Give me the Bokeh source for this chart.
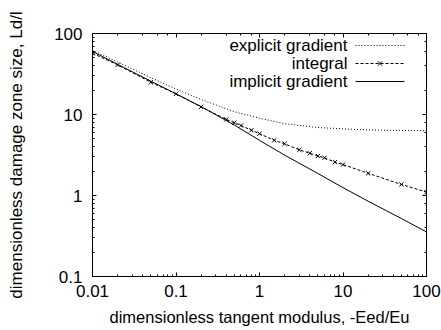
from bokeh.plotting import figure
from bokeh.models import LogAxis, Label, CustomJSTickFormatter
from bokeh.embed import file_html
from bokeh.resources import INLINE
import math

# ---- data ----
explicit_x = [0.01, 0.02, 0.05, 0.1, 0.2, 0.5, 1, 2, 5, 10, 20, 50, 100]
explicit_y = [62.0, 44.5, 28.5, 20.6, 15.3, 10.8, 9.0, 7.7, 6.9, 6.65, 6.45, 6.35, 6.3]

integral_x = [0.01, 0.02, 0.05, 0.1, 0.2, 0.4, 0.5, 0.6, 0.8, 1, 1.5, 2, 3, 4, 5, 6, 8, 10, 20, 50, 100]
integral_y = [57.0, 41.0, 25.0, 18.0, 12.4, 8.7, 7.9, 7.3, 6.4, 5.8, 4.8, 4.35, 3.66, 3.33, 3.07,
              2.92, 2.58, 2.41, 1.88, 1.37, 1.1]

implicit_x = [0.01, 0.02, 0.05, 0.1, 0.2, 0.5, 1, 2, 5, 10, 20, 50, 100]
implicit_y = [60.0, 41.6, 25.8, 18.0, 12.5, 7.4, 4.8, 3.15, 1.87, 1.25, 0.85, 0.52, 0.355]

x_ticks = [0.01, 0.1, 1, 10, 100]
y_ticks = [0.1, 1, 10, 100]
legend_labels = ["explicit gradient", "integral", "implicit gradient"]
x_title = "dimensionless tangent modulus, -Eed/Eu"
y_title = "dimensionless damage zone size, Ld/l"

FONT = "Liberation Sans"
FS = "17px"

FW, FH = 334, 243
XR, YR = (0.01, 100), (0.1, 100)

p = figure(width=441, height=330, x_axis_type="log", y_axis_type="log",
           x_range=XR, y_range=YR, output_backend="svg", toolbar_location=None,
           min_border_left=92, min_border_right=15, min_border_top=33, min_border_bottom=54)
p.grid.visible = False
p.outline_line_color = "black"
p.outline_line_width = 1
p.background_fill_color = "white"
p.border_fill_color = "white"

fmt = CustomJSTickFormatter(code="""
const e = Math.round(Math.log10(tick));
return e < 0 ? tick.toFixed(-e) : tick.toFixed(0);
""")
blank = CustomJSTickFormatter(code="return '';")

def style(ax):
    ax.major_tick_in = 4
    ax.major_tick_out = 0
    ax.minor_tick_in = 2
    ax.minor_tick_out = 0
    ax.axis_line_color = "black"
    ax.major_tick_line_color = "black"
    ax.minor_tick_line_color = "black"
    ax.major_label_text_font = FONT
    ax.major_label_text_font_size = FS
    ax.major_label_text_color = "black"
    ax.axis_label_text_font = FONT
    ax.axis_label_text_font_style = "normal"
    ax.axis_label_text_color = "black"

for ax in p.xaxis + p.yaxis:
    style(ax)
    ax.formatter = fmt

p.xaxis.axis_label = x_title
p.yaxis.axis_label = y_title
p.xaxis.axis_label_text_font_size = "16.5px"
p.yaxis.axis_label_text_font_size = FS
p.xaxis.major_label_standoff = 8
p.xaxis.axis_label_standoff = 8
p.yaxis.major_label_standoff = 10
p.yaxis.axis_label_standoff = 25

top = LogAxis(formatter=blank, major_label_standoff=0)
right = LogAxis(formatter=blank, major_label_standoff=0)
style(top)
style(right)
p.add_layout(top, "above")
p.add_layout(right, "right")

# curves
p.line(explicit_x, explicit_y, line_color="black", line_width=1, line_dash="1 2")
p.line(integral_x, integral_y, line_color="black", line_width=1, line_dash="3 2")
p.scatter(integral_x, integral_y, marker="x", size=6, line_color="black", line_width=1)
p.line(implicit_x, implicit_y, line_color="black", line_width=1)

# legend (label left, sample right), positioned in frame fractions
def fx(px):
    return 10 ** (math.log10(XR[0]) + (px / FW) * (math.log10(XR[1]) - math.log10(XR[0])))
def fy(py):
    return 10 ** (math.log10(YR[1]) - (py / FH) * (math.log10(YR[1]) - math.log10(YR[0])))

rows = [12, 30, 48]
dashes = ["1 2", "3 2", "solid"]
for lab, r, d in zip(legend_labels, rows, dashes):
    p.add_layout(Label(x=255, y=FH - r, x_units="screen", y_units="screen", text=lab,
                       text_font=FONT, text_font_size=FS, text_align="right",
                       text_baseline="middle", text_color="black"))
    p.line([fx(263), fx(312)], [fy(r), fy(r)], line_color="black", line_width=1, line_dash=d)
p.scatter([fx(287.5)], [fy(rows[1])], marker="x", size=6, line_color="black", line_width=1)

open("out.html", "w").write(file_html(p, INLINE))
